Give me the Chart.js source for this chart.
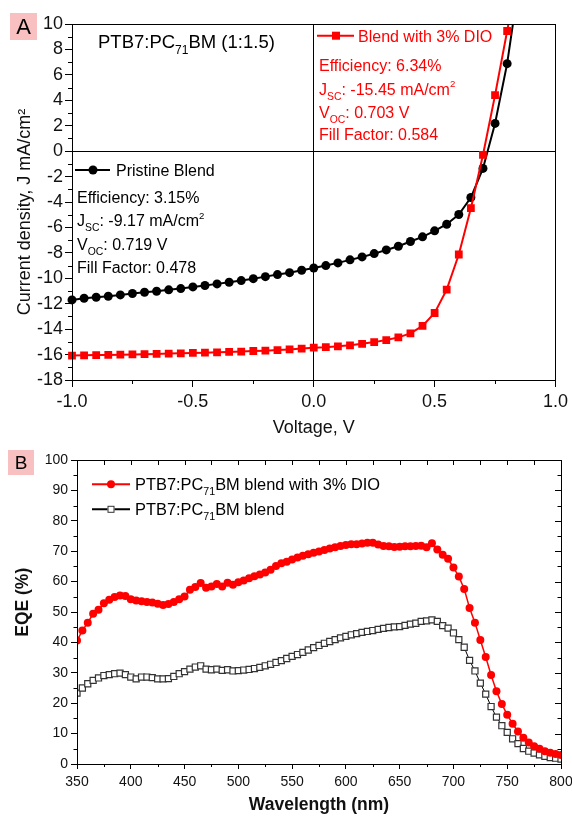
<!DOCTYPE html>
<html>
<head>
<meta charset="utf-8">
<script src="https://cdn.jsdelivr.net/npm/chart.js@4.4.0/dist/chart.umd.min.js"></script>
<style>
body{margin:0;background:#fff;}
canvas{position:absolute;left:0;}
#chartA{top:0;}
#chartB{top:445px;}
</style>
</head>
<body>
<canvas id="chartA" width="572" height="445"></canvas>
<canvas id="chartB" width="572" height="371"></canvas>
<script>

// ---- panel A : J-V curves ----
const voltage = [-1.00,-0.95,-0.90,-0.85,-0.80,-0.75,-0.70,-0.65,-0.60,-0.55,
    -0.50,-0.45,-0.40,-0.35,-0.30,-0.25,-0.20,-0.15,-0.10,-0.05,
    0.00,0.05,0.10,0.15,0.20,0.25,0.30,0.35,0.40,0.45,
    0.50,0.55,0.60,0.65,0.70,0.75,0.80,0.85];
const pristineJ = [-11.70,-11.57,-11.49,-11.41,-11.31,-11.20,-11.10,-11.02,-10.91,-10.81,
    -10.68,-10.57,-10.44,-10.31,-10.18,-10.03,-9.87,-9.71,-9.56,-9.37,
    -9.19,-9.00,-8.79,-8.55,-8.32,-8.06,-7.77,-7.48,-7.11,-6.74,
    -6.27,-5.75,-4.98,-3.65,-1.36,2.18,6.88,13.4];
const dioJ = [-16.08,-16.06,-16.04,-16.03,-16.01,-15.99,-15.97,-15.95,-15.92,-15.90,
    -15.87,-15.85,-15.82,-15.79,-15.76,-15.72,-15.69,-15.65,-15.60,-15.53,
    -15.46,-15.42,-15.35,-15.27,-15.15,-15.02,-14.86,-14.65,-14.33,-13.75,
    -12.73,-10.89,-8.13,-4.49,-0.30,4.41,9.45,14.5];
const minorV = [-0.75,-0.25,0.25,0.75];
const minorJ = [-17,-15,-13,-11,-9,-7,-5,-3,-1,1,3,5,7,9];

// ---- panel B : EQE ----
const wavelength = [350,355,360,365,370,375,380,385,390,395,
    400,405,410,415,420,425,430,435,440,445,
    450,455,460,465,470,475,480,485,490,495,
    500,505,510,515,520,525,530,535,540,545,
    550,555,560,565,570,575,580,585,590,595,
    600,605,610,615,620,625,630,635,640,645,
    650,655,660,665,670,675,680,685,690,695,
    700,705,710,715,720,725,730,735,740,745,
    750,755,760,765,770,775,780,785,790,795,800];
const eqeDIO = [40.6,43.9,46.5,49.4,50.7,52.9,54.0,54.9,55.4,55.3,
    54.2,53.8,53.5,53.3,53.1,52.7,52.3,52.6,53.3,54.2,
    55.1,57.3,58.2,59.5,58.0,58.4,59.2,58.4,59.6,59.0,
    59.8,60.4,61.1,61.8,62.3,63.0,63.9,65.1,66.0,66.5,
    67.3,67.9,68.5,69.0,69.5,69.9,70.4,70.9,71.3,71.7,
    72.0,72.3,72.3,72.5,72.8,72.8,72.2,71.7,71.6,71.4,
    71.5,71.6,71.6,71.7,71.8,71.3,72.6,70.6,68.8,67.5,
    64.6,61.7,57.6,51.3,46.5,40.8,35.2,29.3,23.9,19.7,
    16.2,13.2,10.7,8.6,7.1,5.8,5.0,4.2,3.7,3.3,3.0];
const eqeBlend = [23.3,25.0,26.4,27.5,28.3,29.1,29.4,29.7,29.9,29.4,
    28.6,28.0,28.6,28.6,28.4,28.0,28.0,28.1,28.8,29.7,
    30.4,31.2,31.9,32.3,31.2,31.0,31.2,30.8,31.0,30.6,
    30.7,30.9,31.1,31.4,31.8,32.3,32.8,33.4,34.0,34.7,
    35.4,36.0,36.7,37.5,38.3,39.0,39.7,40.3,40.9,41.5,
    42.0,42.5,42.9,43.3,43.6,43.9,44.3,44.6,44.9,45.1,
    45.2,45.6,46.0,46.3,46.9,47.1,47.4,46.9,45.5,44.7,
    43.1,40.9,38.4,34.1,30.6,26.6,23.0,18.9,15.4,12.6,
    10.4,8.3,6.7,5.1,4.2,3.6,3.0,2.5,2.1,1.9,1.6];
const minorWl = [375,425,475,525,575,625,675,725,775];
const allWl = [375,400,425,450,475,500,525,550,575,600,625,650,675,700,725,750,775];
const minorEqe = [5,15,25,35,45,55,65,75,85,95];
const majorEqe = [10,20,30,40,50,60,70,80,90];

const FONT = "'Liberation Sans', Arial, sans-serif";
const NB = '\u00A0\u00A0\u00A0\u00A0';

function richText(ctx, x, y, parts, size, color){
    ctx.save();
    ctx.fillStyle = color;
    ctx.textBaseline = 'alphabetic';
    ctx.textAlign = 'left';
    parts.forEach(p => {
        let s = size, dy = 0;
        if(p[1] == 'sub'){ s = size*0.65; dy = size*0.32; }
        if(p[1] == 'sup'){ s = size*0.6; dy = -size*0.45; }
        ctx.font = s + 'px ' + FONT;
        ctx.fillText(p[0], x, y + dy);
        x += ctx.measureText(p[0]).width;
    });
    ctx.restore();
}

function drawTicks(chart, axis, vals, len, where, inward){
    const ctx = chart.ctx, a = chart.chartArea, sc = chart.scales[axis];
    ctx.save();
    ctx.strokeStyle = '#000';
    ctx.lineWidth = 1;
    ctx.beginPath();
    vals.forEach(v => {
        const p = Math.round(sc.getPixelForValue(v)) + 0.5;
        if(where == 'bottom'){ ctx.moveTo(p, a.bottom); ctx.lineTo(p, a.bottom + (inward ? -len : len)); }
        if(where == 'top'){ ctx.moveTo(p, a.top); ctx.lineTo(p, a.top + (inward ? len : -len)); }
        if(where == 'left'){ ctx.moveTo(a.left, p); ctx.lineTo(a.left + (inward ? len : -len), p); }
        if(where == 'right'){ ctx.moveTo(a.right, p); ctx.lineTo(a.right + (inward ? -len : len), p); }
    });
    ctx.stroke();
    ctx.restore();
}

function frame(chart){
    const ctx = chart.ctx, a = chart.chartArea;
    ctx.save();
    ctx.strokeStyle = '#000';
    ctx.lineWidth = 1;
    ctx.strokeRect(Math.round(a.left)+0.5, Math.round(a.top)+0.5,
        Math.round(a.right)-Math.round(a.left), Math.round(a.bottom)-Math.round(a.top));
    ctx.restore();
}

function panelLabel(ctx, x, y, w, h, txt, size){
    ctx.save();
    ctx.fillStyle = '#f8c0c0';
    ctx.fillRect(x, y, w, h);
    ctx.fillStyle = '#000';
    ctx.font = size + 'px ' + FONT;
    ctx.textAlign = 'center';
    ctx.textBaseline = 'middle';
    ctx.fillText(txt, x + w/2, y + h/2 + 1);
    ctx.restore();
}

const decorA = {
    id: 'decorA',
    afterDraw(chart){
        const ctx = chart.ctx;
        frame(chart);
        drawTicks(chart, 'x', minorV, 4, 'bottom', false);
        drawTicks(chart, 'y', minorJ, 4, 'left', false);
        panelLabel(ctx, 10, 13, 27, 27, 'A', 22);

        richText(ctx, 98, 48, [['PTB7:PC'],['71','sub'],['BM (1:1.5)']], 18.5, '#000');

        // legend pristine
        ctx.save();
        ctx.strokeStyle = '#000'; ctx.lineWidth = 2;
        ctx.beginPath(); ctx.moveTo(75, 170); ctx.lineTo(110, 170); ctx.stroke();
        ctx.fillStyle = '#000';
        ctx.beginPath(); ctx.arc(93, 170, 4.5, 0, Math.PI*2); ctx.fill();
        ctx.restore();
        richText(ctx, 116, 175.7, [['Pristine Blend']], 16, '#000');
        richText(ctx, 77, 203, [['Efficiency: 3.15%']], 16, '#000');
        richText(ctx, 77, 226, [['J'],['SC','sub'],[': -9.17 mA/cm'],['2','sup']], 16, '#000');
        richText(ctx, 77, 250, [['V'],['OC','sub'],[': 0.719 V']], 16, '#000');
        richText(ctx, 77, 273, [['Fill Factor: 0.478']], 16, '#000');

        // legend DIO
        ctx.save();
        ctx.strokeStyle = '#ff0000'; ctx.lineWidth = 2;
        ctx.beginPath(); ctx.moveTo(317, 35.7); ctx.lineTo(354, 35.7); ctx.stroke();
        ctx.fillStyle = '#ff0000';
        ctx.fillRect(332, 31.7, 8, 8);
        ctx.restore();
        richText(ctx, 358, 41.7, [['Blend with 3% DIO']], 16, '#ff0000');
        richText(ctx, 319, 71, [['Efficiency: 6.34%']], 16, '#ff0000');
        richText(ctx, 319, 94.5, [['J'],['SC','sub'],[': -15.45 mA/cm'],['2','sup']], 16, '#ff0000');
        richText(ctx, 319, 117.5, [['V'],['OC','sub'],[': 0.703 V']], 16, '#ff0000');
        richText(ctx, 319, 140, [['Fill Factor: 0.584']], 16, '#ff0000');
    }
};

const decorB = {
    id: 'decorB',
    afterDraw(chart){
        const ctx = chart.ctx;
        frame(chart);
        drawTicks(chart, 'x', minorWl, 3, 'bottom', false);
        drawTicks(chart, 'y', minorEqe, 3.5, 'left', false);
        drawTicks(chart, 'x', allWl, 5, 'top', true);
        drawTicks(chart, 'y', majorEqe, 6, 'right', true);
        drawTicks(chart, 'y', minorEqe, 3.5, 'right', true);
        panelLabel(ctx, 8, 5, 26, 25, 'B', 19);

        ctx.save();
        ctx.strokeStyle = '#ff0000'; ctx.lineWidth = 2;
        ctx.beginPath(); ctx.moveTo(92, 39.3); ctx.lineTo(130, 39.3); ctx.stroke();
        ctx.fillStyle = '#ff0000';
        ctx.beginPath(); ctx.arc(111, 39.3, 4, 0, Math.PI*2); ctx.fill();
        ctx.strokeStyle = '#000'; ctx.lineWidth = 2;
        ctx.beginPath(); ctx.moveTo(92, 64.3); ctx.lineTo(130, 64.3); ctx.stroke();
        ctx.fillStyle = '#fff';
        ctx.fillRect(107.5, 60.8, 7, 7);
        ctx.strokeStyle = '#333'; ctx.lineWidth = 1;
        ctx.strokeRect(108, 61.3, 6, 6);
        ctx.restore();
        richText(ctx, 135, 45, [['PTB7:PC'],['71','sub'],['BM blend with 3% DIO']], 16.4, '#000');
        richText(ctx, 135, 70, [['PTB7:PC'],['71','sub'],['BM blend']], 16.4, '#000');
    }
};

function setChartA(){
    const ctx = document.getElementById('chartA');
    new Chart(ctx, {
        type: 'line',
        data: {
            datasets: [
                {
                    label: 'Blend with 3% DIO',
                    data: voltage.map((v, i) => ({x: v, y: dioJ[i]})),
                    borderColor: '#ff0000',
                    backgroundColor: '#ff0000',
                    borderWidth: 2,
                    pointStyle: 'rect',
                    pointRadius: 5.5,
                    pointBorderWidth: 0,
                    tension: 0,
                    clip: {left: 10, right: 10, top: 0, bottom: 10}
                },
                {
                    label: 'Pristine Blend',
                    data: voltage.map((v, i) => ({x: v, y: pristineJ[i]})),
                    borderColor: '#000',
                    backgroundColor: '#000',
                    borderWidth: 2,
                    pointStyle: 'circle',
                    pointRadius: 4.5,
                    pointBorderWidth: 0,
                    tension: 0,
                    clip: {left: 10, right: 10, top: 0, bottom: 10}
                }
            ]
        },
        options: {
            responsive: false,
            animation: false,
            layout: {padding: {left: 0, right: 16, top: 24, bottom: 0}},
            plugins: {
                legend: {display: false},
                tooltip: {enabled: false}
            },
            scales: {
                x: {
                    type: 'linear',
                    min: -1, max: 1,
                    afterFit: s => { s.height = 65; },
                    ticks: {stepSize: 0.5, color: '#111', padding: 4,
                        font: {family: FONT, size: 18},
                        callback: v => v.toFixed(1)},
                    grid: {
                        color: c => (c.tick && c.tick.value === 0) ? '#000' : 'rgba(0,0,0,0)',
                        tickColor: '#000', tickLength: 7, lineWidth: 1
                    },
                    border: {color: '#000', width: 1},
                    title: {display: true, text: 'Voltage, V', color: '#111',
                        font: {family: FONT, size: 18}, padding: {top: 0, bottom: 6}}
                },
                y: {
                    min: -18, max: 10,
                    afterFit: s => { s.width = 72; },
                    ticks: {stepSize: 2, color: '#111', padding: 2,
                        font: {family: FONT, size: 18}},
                    grid: {
                        color: c => (c.tick && c.tick.value === 0) ? '#000' : 'rgba(0,0,0,0)',
                        tickColor: '#000', tickLength: 7, lineWidth: 1
                    },
                    border: {color: '#000', width: 1},
                    title: {display: true, text: 'Current density, J mA/cm\u00B2' + NB, color: '#111',
                        font: {family: FONT, size: 18}, padding: {top: 14, bottom: 0}}
                }
            }
        },
        plugins: [decorA]
    });
}

function setChartB(){
    const ctx = document.getElementById('chartB');
    new Chart(ctx, {
        type: 'line',
        data: {
            datasets: [
                {
                    label: 'PTB7:PC71BM blend with 3% DIO',
                    data: wavelength.map((w, i) => ({x: w, y: eqeDIO[i]})),
                    borderColor: '#ff0000',
                    backgroundColor: '#ff0000',
                    borderWidth: 1.5,
                    pointStyle: 'circle',
                    pointRadius: 4,
                    pointBorderWidth: 0,
                    tension: 0
                },
                {
                    label: 'PTB7:PC71BM blend',
                    data: wavelength.map((w, i) => ({x: w, y: eqeBlend[i]})),
                    borderColor: '#000',
                    backgroundColor: '#fff',
                    borderWidth: 1,
                    pointStyle: 'rect',
                    pointRadius: 4.3,
                    pointBorderColor: '#333',
                    pointBorderWidth: 1.2,
                    tension: 0
                }
            ]
        },
        options: {
            responsive: false,
            animation: false,
            layout: {padding: {left: 0, right: 11, top: 15, bottom: 0}},
            plugins: {
                legend: {display: false},
                tooltip: {enabled: false}
            },
            scales: {
                x: {
                    type: 'linear',
                    min: 350, max: 800,
                    afterFit: s => { s.height = 52; s.paddingLeft = 0; s.paddingRight = 0; },
                    ticks: {stepSize: 50, color: '#111', padding: 5,
                        font: {family: FONT, size: 14}},
                    grid: {drawOnChartArea: false, tickColor: '#000', tickLength: 5},
                    border: {color: '#000', width: 1},
                    title: {display: true, text: 'Wavelength (nm)', color: '#111',
                        font: {family: FONT, size: 17.5, weight: 'bold'}, padding: {top: 0, bottom: 0}}
                },
                y: {
                    min: 0, max: 100,
                    afterFit: s => { s.width = 77; s.paddingTop = 0; s.paddingBottom = 0; },
                    ticks: {stepSize: 10, color: '#111', padding: 3,
                        font: {family: FONT, size: 14}},
                    grid: {drawOnChartArea: false, tickColor: '#000', tickLength: 6},
                    border: {color: '#000', width: 1},
                    title: {display: true, text: NB + 'EQE (%)', color: '#111',
                        font: {family: FONT, size: 17.5, weight: 'bold'}, padding: {top: 13, bottom: 0}}
                }
            }
        },
        plugins: [decorB]
    });
}

setChartA();
setChartB();
</script>
</body>
</html>
